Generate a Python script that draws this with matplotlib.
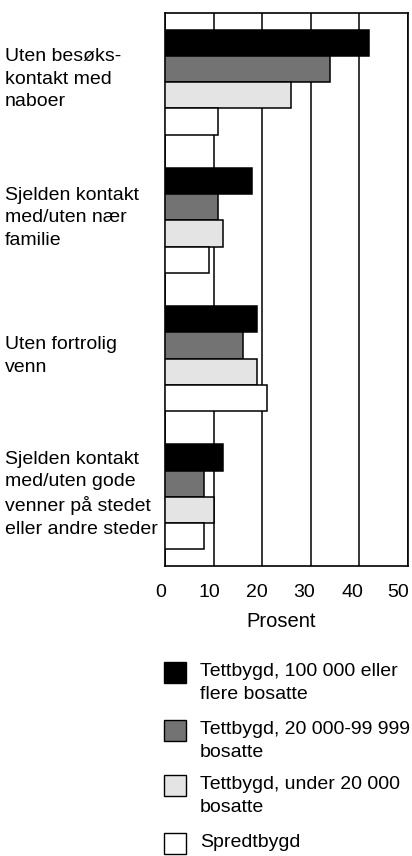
import matplotlib
matplotlib.use("Agg")
import matplotlib.pyplot as plt
from matplotlib.patches import Rectangle
from matplotlib.transforms import blended_transform_factory, ScaledTranslation
import numpy as np

plt.rcParams['font.family'] = ['Liberation Sans', 'DejaVu Sans']

categories = ["Uten besøks-\nkontakt med\nnaboer",
              "Sjelden kontakt\nmed/uten nær\nfamilie",
              "Uten fortrolig\nvenn",
              "Sjelden kontakt\nmed/uten gode\nvenner på stedet\neller andre steder"]
series_names = ["Tettbygd, 100 000 eller\nflere bosatte",
                "Tettbygd, 20 000-99 999\nbosatte",
                "Tettbygd, under 20 000\nbosatte",
                "Spredtbygd"]
tettbygd_100k = [42, 18, 19, 12]
tettbygd_20k_99k = [34, 11, 16, 8]
tettbygd_under_20k = [26, 12, 19, 10]
spredtbygd = [11, 9, 21, 8]
xticks = [0, 10, 20, 30, 40, 50]
xlabel = "Prosent"

series = [tettbygd_100k, tettbygd_20k_99k, tettbygd_under_20k, spredtbygd]
colors = ["#000000", "#737373", "#e4e4e4", "#ffffff"]

W, H = 412, 856
fig = plt.figure(figsize=(W / 100, H / 100), dpi=100)
ax = fig.add_axes([165 / W, 1 - 566 / H, (408 - 165) / W, (566 - 13) / H])

bh = 0.19
y = np.arange(len(categories))
for k, (vals, c) in enumerate(zip(series, colors)):
    ax.barh(y - 0.38 + bh * (k + 0.5), vals, height=bh, color=c,
            edgecolor="black", linewidth=1.1, zorder=3)

ax.set_xlim(0, 50)
ax.set_ylim(3.5, -0.5)
ax.set_xticks(xticks)
ax.set_xticklabels([str(t) for t in xticks])
ax.set_yticks([])
ax.grid(axis="x", color="black", linewidth=1.1, zorder=1)
ax.tick_params(axis="x", length=0, pad=13, labelsize=14)
label_shifts = [-4.5, -4.5, -5, -6.5, -7, -10]
for lab, dx in zip(ax.get_xticklabels(), label_shifts):
    lab.set_transform(lab.get_transform() + ScaledTranslation(dx / 100, 0, fig.dpi_scale_trans))
for s in ax.spines.values():
    s.set_linewidth(1.2)
ax.set_xlabel(xlabel, fontsize=14.5, labelpad=8, x=(281.5 - 165) / 243)

trans = blended_transform_factory(fig.transFigure, ax.transData)
for i, cat in enumerate(categories):
    ax.text(5 / W, i - 0.02, cat, transform=trans, ha="left", va="center",
            fontsize=14, linespacing=1.42)

# legend
leg_tops = [662, 720, 775, 833]
for k, (name, c) in enumerate(zip(series_names, colors)):
    top = leg_tops[k]
    fig.add_artist(Rectangle((164 / W, 1 - (top + 21) / H), 22 / W, 21 / H,
                             transform=fig.transFigure, facecolor=c,
                             edgecolor="black", linewidth=1.0))
    fig.text(200 / W, 1 - (top + 1) / H, name, ha="left", va="top",
             fontsize=14, linespacing=1.45)

fig.savefig("out.png", dpi=100)
